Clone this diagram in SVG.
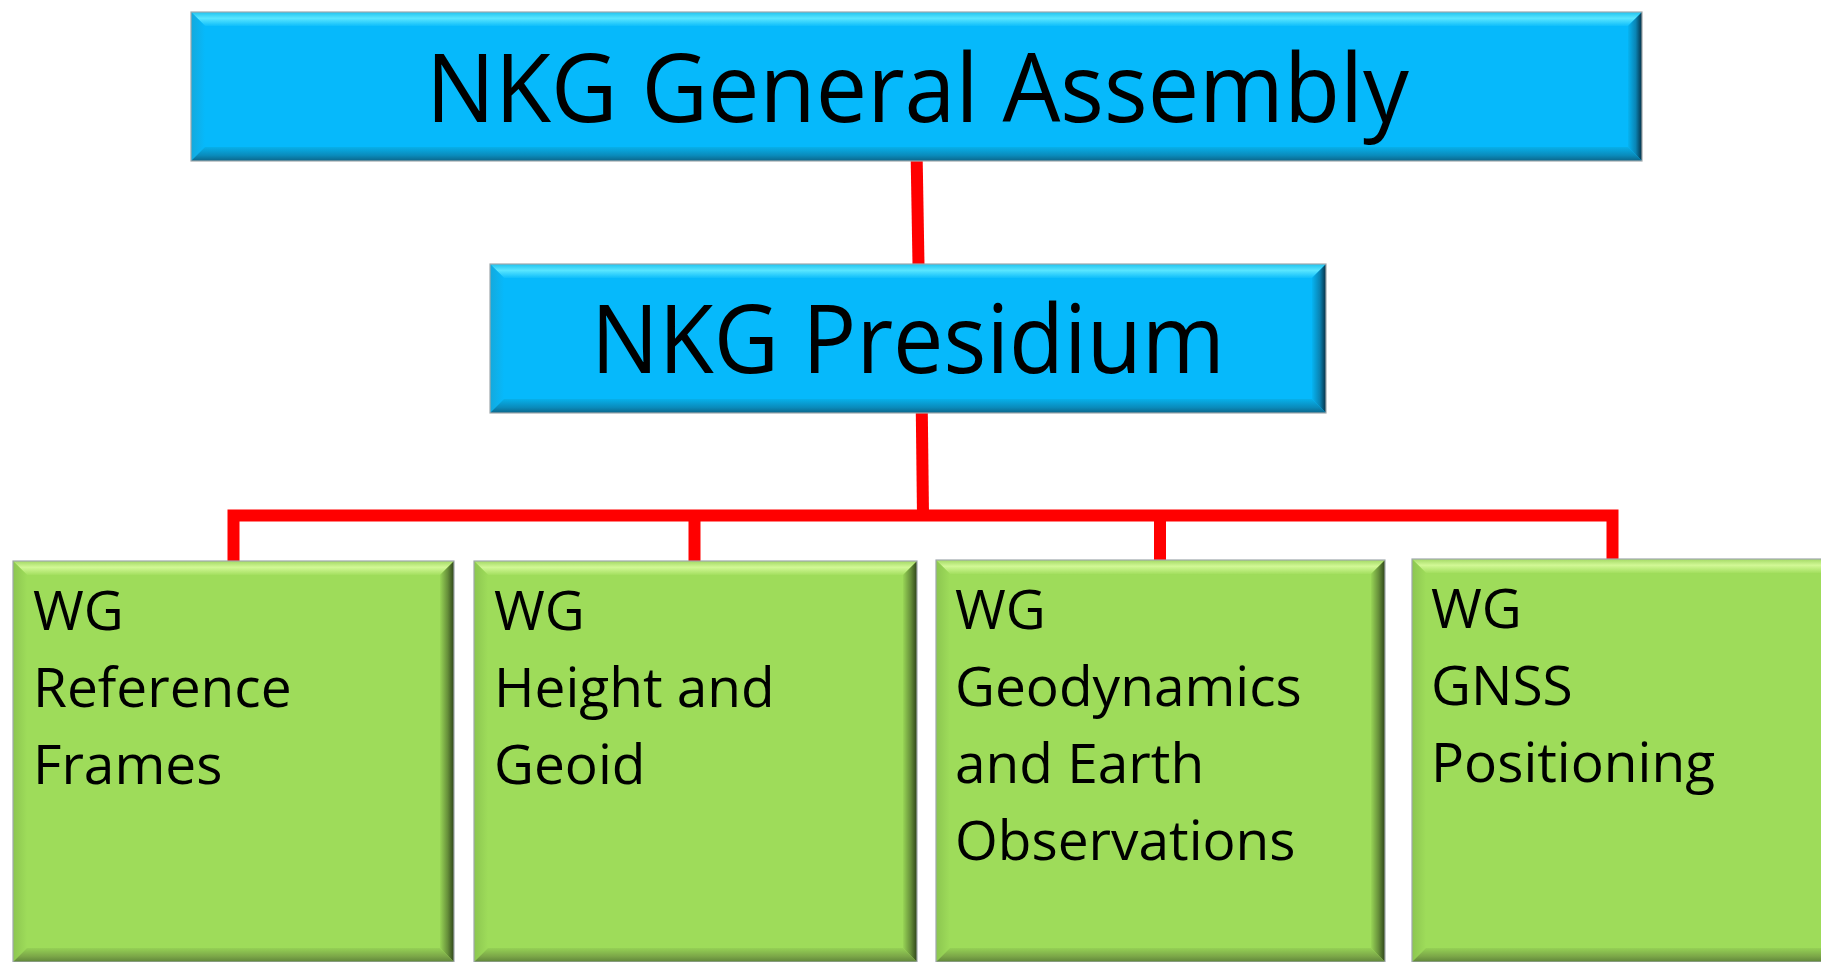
<svg xmlns="http://www.w3.org/2000/svg" width="1821" height="962" viewBox="0 0 1821 962">
<defs>
<linearGradient id="bTop" x1="0" y1="0" x2="0" y2="1"><stop offset="0" stop-color="#1fc3ef"/><stop offset="0.45" stop-color="#5ae6ff"/><stop offset="1" stop-color="#0fbefb"/></linearGradient>
<linearGradient id="bLeft" x1="0" y1="0" x2="1" y2="0"><stop offset="0" stop-color="#14a9dc"/><stop offset="1" stop-color="#06b9fb"/></linearGradient>
<linearGradient id="bRight" x1="0" y1="0" x2="1" y2="0"><stop offset="0" stop-color="#06b4f2"/><stop offset="0.55" stop-color="#0a84b4"/><stop offset="1" stop-color="#062f44"/></linearGradient>
<linearGradient id="bBottom" x1="0" y1="0" x2="0" y2="1"><stop offset="0" stop-color="#07b0ea"/><stop offset="0.6" stop-color="#0a8bbb"/><stop offset="1" stop-color="#0b6589"/></linearGradient>
<linearGradient id="gTop" x1="0" y1="0" x2="0" y2="1"><stop offset="0" stop-color="#a3d965"/><stop offset="0.45" stop-color="#d2f896"/><stop offset="1" stop-color="#a3df5f"/></linearGradient>
<linearGradient id="gLeft" x1="0" y1="0" x2="1" y2="0"><stop offset="0" stop-color="#8cc650"/><stop offset="1" stop-color="#9edc5a"/></linearGradient>
<linearGradient id="gRight" x1="0" y1="0" x2="1" y2="0"><stop offset="0" stop-color="#98d556"/><stop offset="0.55" stop-color="#668f3a"/><stop offset="1" stop-color="#2e4419"/></linearGradient>
<linearGradient id="gBottom" x1="0" y1="0" x2="0" y2="1"><stop offset="0" stop-color="#95d155"/><stop offset="0.6" stop-color="#7ba648"/><stop offset="1" stop-color="#5f853a"/></linearGradient>
</defs>
<style>
.blue{fill:#06b9fb}
.green{fill:#9edc5a}
.edge{fill:none;stroke:#a0a8ac;stroke-width:1.2}
.bt{fill:url(#bTop)} .bl{fill:url(#bLeft)} .br{fill:url(#bRight)} .bb{fill:url(#bBottom)}
.gt{fill:url(#gTop)} .gl{fill:url(#gLeft)} .gr{fill:url(#gRight)} .gb{fill:url(#gBottom)}
.title{font-family:"Open Sans","Noto Sans",sans-serif;font-size:96px;fill:#000;text-anchor:middle}
.wg{font-family:"Open Sans","Noto Sans",sans-serif;font-size:55px;fill:#000}
.conn{fill:none;stroke:#ff0000;stroke-width:12;stroke-linejoin:miter;stroke-linecap:butt}
</style>
<rect width="1821" height="962" fill="#ffffff"/>
<g id="connectors">
<path class="conn" d="M916.7 160 L918.5 265"/>
<path class="conn" d="M921.8 412 L923 515.4"/>
<path class="conn" d="M233.5 562 L233.5 515.4 L1612.5 515.4 L1612.5 560"/>
<path class="conn" d="M694.5 515 L694.5 562"/>
<path class="conn" d="M1160 515 L1160 561"/>
</g>
<g id="general-assembly">
<rect class="blue" x="191" y="12" width="1451" height="149"/>
<polygon class="bt" points="191,12 1642,12 1628,26 205,26"/>
<polygon class="bl" points="191,12 205,26 205,147 191,161"/>
<polygon class="br" points="1642,12 1642,161 1628,147 1628,26"/>
<polygon class="bb" points="191,161 205,147 1628,147 1642,161"/>
<rect class="edge" x="191" y="12" width="1451" height="149"/>
<text class="title" x="917.5" y="122" textLength="983" lengthAdjust="spacingAndGlyphs">NKG General Assembly</text>
</g>
<g id="presidium">
<rect class="blue" x="490" y="264" width="836" height="149"/>
<polygon class="bt" points="490,264 1326,264 1312,278 504,278"/>
<polygon class="bl" points="490,264 504,278 504,399 490,413"/>
<polygon class="br" points="1326,264 1326,413 1312,399 1312,278"/>
<polygon class="bb" points="490,413 504,399 1312,399 1326,413"/>
<rect class="edge" x="490" y="264" width="836" height="149"/>
<text class="title" x="908" y="373" textLength="634" lengthAdjust="spacingAndGlyphs">NKG Presidium</text>
</g>
<g id="wg-reference-frames">
<rect class="green" x="13" y="561" width="441" height="401"/>
<polygon class="gt" points="13,561 454,561 440,575 27,575"/>
<polygon class="gl" points="13,561 27,575 27,948 13,962"/>
<polygon class="gr" points="454,561 454,962 440,948 440,575"/>
<polygon class="gb" points="13,962 27,948 440,948 454,962"/>
<rect class="edge" x="13" y="561" width="441" height="401"/>
<text class="wg" x="33" y="630">WG</text>
<text class="wg" x="33" y="707">Reference</text>
<text class="wg" x="33" y="784">Frames</text>
</g>
<g id="wg-height-geoid">
<rect class="green" x="474" y="561" width="443" height="401"/>
<polygon class="gt" points="474,561 917,561 903,575 488,575"/>
<polygon class="gl" points="474,561 488,575 488,948 474,962"/>
<polygon class="gr" points="917,561 917,962 903,948 903,575"/>
<polygon class="gb" points="474,962 488,948 903,948 917,962"/>
<rect class="edge" x="474" y="561" width="443" height="401"/>
<text class="wg" x="494" y="630">WG</text>
<text class="wg" x="494" y="707">Height and</text>
<text class="wg" x="494" y="784">Geoid</text>
</g>
<g id="wg-geodynamics">
<rect class="green" x="936" y="560" width="449" height="402"/>
<polygon class="gt" points="936,560 1385,560 1371,574 950,574"/>
<polygon class="gl" points="936,560 950,574 950,948 936,962"/>
<polygon class="gr" points="1385,560 1385,962 1371,948 1371,574"/>
<polygon class="gb" points="936,962 950,948 1371,948 1385,962"/>
<rect class="edge" x="936" y="560" width="449" height="402"/>
<text class="wg" x="955" y="629">WG</text>
<text class="wg" x="955" y="706">Geodynamics</text>
<text class="wg" x="955" y="783">and Earth</text>
<text class="wg" x="955" y="860">Observations</text>
</g>
<g id="wg-gnss">
<rect class="green" x="1412" y="559" width="430" height="403"/>
<polygon class="gt" points="1412,559 1842,559 1828,573 1426,573"/>
<polygon class="gl" points="1412,559 1426,573 1426,948 1412,962"/>
<polygon class="gb" points="1412,962 1426,948 1828,948 1842,962"/>
<rect class="edge" x="1412" y="559" width="430" height="403"/>
<text class="wg" x="1431" y="628">WG</text>
<text class="wg" x="1431" y="705">GNSS</text>
<text class="wg" x="1431" y="782">Positioning</text>
</g>
</svg>
